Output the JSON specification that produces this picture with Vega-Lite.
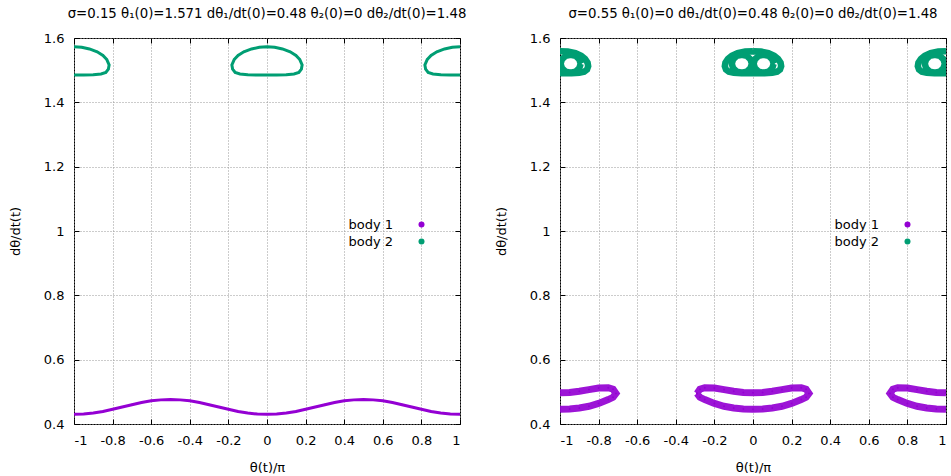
{
  "$schema": "https://vega.github.io/schema/vega-lite/v6.json",
  "background": "white",
  "padding": {"left": 8, "top": 6, "right": 5, "bottom": 5},
  "datasets": {
    "left": [
      {"body":"body 1","seg":"b1","i":0,"x":-1,"y":0.430},
      {"body":"body 1","seg":"b1","i":1,"x":-0.95,"y":0.431},
      {"body":"body 1","seg":"b1","i":2,"x":-0.9,"y":0.434},
      {"body":"body 1","seg":"b1","i":3,"x":-0.85,"y":0.439},
      {"body":"body 1","seg":"b1","i":4,"x":-0.8,"y":0.446},
      {"body":"body 1","seg":"b1","i":5,"x":-0.75,"y":0.453},
      {"body":"body 1","seg":"b1","i":6,"x":-0.7,"y":0.460},
      {"body":"body 1","seg":"b1","i":7,"x":-0.65,"y":0.467},
      {"body":"body 1","seg":"b1","i":8,"x":-0.6,"y":0.472},
      {"body":"body 1","seg":"b1","i":9,"x":-0.55,"y":0.475},
      {"body":"body 1","seg":"b1","i":10,"x":-0.5,"y":0.476},
      {"body":"body 1","seg":"b1","i":11,"x":-0.45,"y":0.475},
      {"body":"body 1","seg":"b1","i":12,"x":-0.4,"y":0.472},
      {"body":"body 1","seg":"b1","i":13,"x":-0.35,"y":0.467},
      {"body":"body 1","seg":"b1","i":14,"x":-0.3,"y":0.460},
      {"body":"body 1","seg":"b1","i":15,"x":-0.25,"y":0.453},
      {"body":"body 1","seg":"b1","i":16,"x":-0.2,"y":0.446},
      {"body":"body 1","seg":"b1","i":17,"x":-0.15,"y":0.439},
      {"body":"body 1","seg":"b1","i":18,"x":-0.1,"y":0.434},
      {"body":"body 1","seg":"b1","i":19,"x":-0.05,"y":0.431},
      {"body":"body 1","seg":"b1","i":20,"x":0,"y":0.430},
      {"body":"body 1","seg":"b1","i":21,"x":0.05,"y":0.431},
      {"body":"body 1","seg":"b1","i":22,"x":0.1,"y":0.434},
      {"body":"body 1","seg":"b1","i":23,"x":0.15,"y":0.439},
      {"body":"body 1","seg":"b1","i":24,"x":0.2,"y":0.446},
      {"body":"body 1","seg":"b1","i":25,"x":0.25,"y":0.453},
      {"body":"body 1","seg":"b1","i":26,"x":0.3,"y":0.460},
      {"body":"body 1","seg":"b1","i":27,"x":0.35,"y":0.467},
      {"body":"body 1","seg":"b1","i":28,"x":0.4,"y":0.472},
      {"body":"body 1","seg":"b1","i":29,"x":0.45,"y":0.475},
      {"body":"body 1","seg":"b1","i":30,"x":0.5,"y":0.476},
      {"body":"body 1","seg":"b1","i":31,"x":0.55,"y":0.475},
      {"body":"body 1","seg":"b1","i":32,"x":0.6,"y":0.472},
      {"body":"body 1","seg":"b1","i":33,"x":0.65,"y":0.467},
      {"body":"body 1","seg":"b1","i":34,"x":0.7,"y":0.460},
      {"body":"body 1","seg":"b1","i":35,"x":0.75,"y":0.453},
      {"body":"body 1","seg":"b1","i":36,"x":0.8,"y":0.446},
      {"body":"body 1","seg":"b1","i":37,"x":0.85,"y":0.439},
      {"body":"body 1","seg":"b1","i":38,"x":0.9,"y":0.434},
      {"body":"body 1","seg":"b1","i":39,"x":0.95,"y":0.431},
      {"body":"body 1","seg":"b1","i":40,"x":1,"y":0.430},

      {"body":"body 2","seg":"c","i":0,"x":0,"y":1.573},
      {"body":"body 2","seg":"c","i":1,"x":0.04,"y":1.571},
      {"body":"body 2","seg":"c","i":2,"x":0.08,"y":1.566},
      {"body":"body 2","seg":"c","i":3,"x":0.12,"y":1.557},
      {"body":"body 2","seg":"c","i":4,"x":0.15,"y":1.546},
      {"body":"body 2","seg":"c","i":5,"x":0.17,"y":1.533},
      {"body":"body 2","seg":"c","i":6,"x":0.182,"y":1.516},
      {"body":"body 2","seg":"c","i":7,"x":0.178,"y":1.503},
      {"body":"body 2","seg":"c","i":8,"x":0.165,"y":1.493},
      {"body":"body 2","seg":"c","i":9,"x":0.14,"y":1.488},
      {"body":"body 2","seg":"c","i":10,"x":0.1,"y":1.486},
      {"body":"body 2","seg":"c","i":11,"x":0.05,"y":1.485},
      {"body":"body 2","seg":"c","i":12,"x":0,"y":1.485},
      {"body":"body 2","seg":"c","i":13,"x":-0.05,"y":1.485},
      {"body":"body 2","seg":"c","i":14,"x":-0.1,"y":1.486},
      {"body":"body 2","seg":"c","i":15,"x":-0.14,"y":1.488},
      {"body":"body 2","seg":"c","i":16,"x":-0.165,"y":1.493},
      {"body":"body 2","seg":"c","i":17,"x":-0.178,"y":1.503},
      {"body":"body 2","seg":"c","i":18,"x":-0.182,"y":1.516},
      {"body":"body 2","seg":"c","i":19,"x":-0.17,"y":1.533},
      {"body":"body 2","seg":"c","i":20,"x":-0.15,"y":1.546},
      {"body":"body 2","seg":"c","i":21,"x":-0.12,"y":1.557},
      {"body":"body 2","seg":"c","i":22,"x":-0.08,"y":1.566},
      {"body":"body 2","seg":"c","i":23,"x":-0.04,"y":1.571},
      {"body":"body 2","seg":"c","i":24,"x":0,"y":1.573},

      {"body":"body 2","seg":"l","i":0,"x":-1,"y":1.573},
      {"body":"body 2","seg":"l","i":1,"x":-0.96,"y":1.571},
      {"body":"body 2","seg":"l","i":2,"x":-0.92,"y":1.566},
      {"body":"body 2","seg":"l","i":3,"x":-0.88,"y":1.557},
      {"body":"body 2","seg":"l","i":4,"x":-0.85,"y":1.546},
      {"body":"body 2","seg":"l","i":5,"x":-0.83,"y":1.533},
      {"body":"body 2","seg":"l","i":6,"x":-0.818,"y":1.516},
      {"body":"body 2","seg":"l","i":7,"x":-0.822,"y":1.503},
      {"body":"body 2","seg":"l","i":8,"x":-0.835,"y":1.493},
      {"body":"body 2","seg":"l","i":9,"x":-0.86,"y":1.488},
      {"body":"body 2","seg":"l","i":10,"x":-0.9,"y":1.486},
      {"body":"body 2","seg":"l","i":11,"x":-0.95,"y":1.485},
      {"body":"body 2","seg":"l","i":12,"x":-1,"y":1.485},

      {"body":"body 2","seg":"r","i":0,"x":1,"y":1.485},
      {"body":"body 2","seg":"r","i":1,"x":0.95,"y":1.485},
      {"body":"body 2","seg":"r","i":2,"x":0.9,"y":1.486},
      {"body":"body 2","seg":"r","i":3,"x":0.86,"y":1.488},
      {"body":"body 2","seg":"r","i":4,"x":0.835,"y":1.493},
      {"body":"body 2","seg":"r","i":5,"x":0.822,"y":1.503},
      {"body":"body 2","seg":"r","i":6,"x":0.818,"y":1.516},
      {"body":"body 2","seg":"r","i":7,"x":0.83,"y":1.533},
      {"body":"body 2","seg":"r","i":8,"x":0.85,"y":1.546},
      {"body":"body 2","seg":"r","i":9,"x":0.88,"y":1.557},
      {"body":"body 2","seg":"r","i":10,"x":0.92,"y":1.566},
      {"body":"body 2","seg":"r","i":11,"x":0.96,"y":1.571},
      {"body":"body 2","seg":"r","i":12,"x":1,"y":1.573}
    ],
    "right": [
      {"body":"body 2","seg":"o0","i":0,"x":0,"y":1.559},
      {"body":"body 2","seg":"o0","i":1,"x":0.04,"y":1.558},
      {"body":"body 2","seg":"o0","i":2,"x":0.08,"y":1.553},
      {"body":"body 2","seg":"o0","i":3,"x":0.11,"y":1.545},
      {"body":"body 2","seg":"o0","i":4,"x":0.13,"y":1.535},
      {"body":"body 2","seg":"o0","i":5,"x":0.143,"y":1.523},
      {"body":"body 2","seg":"o0","i":6,"x":0.146,"y":1.512},
      {"body":"body 2","seg":"o0","i":7,"x":0.14,"y":1.502},
      {"body":"body 2","seg":"o0","i":8,"x":0.125,"y":1.495},
      {"body":"body 2","seg":"o0","i":9,"x":0.1,"y":1.492},
      {"body":"body 2","seg":"o0","i":10,"x":0.06,"y":1.4905},
      {"body":"body 2","seg":"o0","i":11,"x":0.03,"y":1.4905},
      {"body":"body 2","seg":"o0","i":12,"x":0,"y":1.4905},
      {"body":"body 2","seg":"o0","i":13,"x":-0.03,"y":1.4905},
      {"body":"body 2","seg":"o0","i":14,"x":-0.06,"y":1.4905},
      {"body":"body 2","seg":"o0","i":15,"x":-0.1,"y":1.492},
      {"body":"body 2","seg":"o0","i":16,"x":-0.125,"y":1.495},
      {"body":"body 2","seg":"o0","i":17,"x":-0.14,"y":1.502},
      {"body":"body 2","seg":"o0","i":18,"x":-0.146,"y":1.512},
      {"body":"body 2","seg":"o0","i":19,"x":-0.143,"y":1.523},
      {"body":"body 2","seg":"o0","i":20,"x":-0.13,"y":1.535},
      {"body":"body 2","seg":"o0","i":21,"x":-0.11,"y":1.545},
      {"body":"body 2","seg":"o0","i":22,"x":-0.08,"y":1.553},
      {"body":"body 2","seg":"o0","i":23,"x":-0.04,"y":1.558},
      {"body":"body 2","seg":"o0","i":24,"x":0,"y":1.559},

      {"body":"body 2","seg":"o-","i":0,"x":-1,"y":1.559},
      {"body":"body 2","seg":"o-","i":1,"x":-0.96,"y":1.558},
      {"body":"body 2","seg":"o-","i":2,"x":-0.92,"y":1.553},
      {"body":"body 2","seg":"o-","i":3,"x":-0.89,"y":1.545},
      {"body":"body 2","seg":"o-","i":4,"x":-0.87,"y":1.535},
      {"body":"body 2","seg":"o-","i":5,"x":-0.857,"y":1.523},
      {"body":"body 2","seg":"o-","i":6,"x":-0.854,"y":1.512},
      {"body":"body 2","seg":"o-","i":7,"x":-0.86,"y":1.502},
      {"body":"body 2","seg":"o-","i":8,"x":-0.875,"y":1.495},
      {"body":"body 2","seg":"o-","i":9,"x":-0.9,"y":1.492},
      {"body":"body 2","seg":"o-","i":10,"x":-0.94,"y":1.4905},
      {"body":"body 2","seg":"o-","i":11,"x":-0.97,"y":1.4905},
      {"body":"body 2","seg":"o-","i":12,"x":-1,"y":1.4905},

      {"body":"body 2","seg":"o+","i":0,"x":1,"y":1.4905},
      {"body":"body 2","seg":"o+","i":1,"x":0.97,"y":1.4905},
      {"body":"body 2","seg":"o+","i":2,"x":0.94,"y":1.4905},
      {"body":"body 2","seg":"o+","i":3,"x":0.9,"y":1.492},
      {"body":"body 2","seg":"o+","i":4,"x":0.875,"y":1.495},
      {"body":"body 2","seg":"o+","i":5,"x":0.86,"y":1.502},
      {"body":"body 2","seg":"o+","i":6,"x":0.854,"y":1.512},
      {"body":"body 2","seg":"o+","i":7,"x":0.857,"y":1.523},
      {"body":"body 2","seg":"o+","i":8,"x":0.87,"y":1.535},
      {"body":"body 2","seg":"o+","i":9,"x":0.89,"y":1.545},
      {"body":"body 2","seg":"o+","i":10,"x":0.92,"y":1.553},
      {"body":"body 2","seg":"o+","i":11,"x":0.96,"y":1.558},
      {"body":"body 2","seg":"o+","i":12,"x":1,"y":1.559},

      {"body":"body 2","seg":"hl0","i":0,"x":-0.006,"y":1.52},
      {"body":"body 2","seg":"hl0","i":1,"x":-0.013,"y":1.534},
      {"body":"body 2","seg":"hl0","i":2,"x":-0.032,"y":1.5443},
      {"body":"body 2","seg":"hl0","i":3,"x":-0.058,"y":1.548},
      {"body":"body 2","seg":"hl0","i":4,"x":-0.084,"y":1.5443},
      {"body":"body 2","seg":"hl0","i":5,"x":-0.103,"y":1.534},
      {"body":"body 2","seg":"hl0","i":6,"x":-0.11,"y":1.52},
      {"body":"body 2","seg":"hl0","i":7,"x":-0.103,"y":1.506},
      {"body":"body 2","seg":"hl0","i":8,"x":-0.084,"y":1.4957},
      {"body":"body 2","seg":"hl0","i":9,"x":-0.058,"y":1.492},
      {"body":"body 2","seg":"hl0","i":10,"x":-0.032,"y":1.4957},
      {"body":"body 2","seg":"hl0","i":11,"x":-0.013,"y":1.506},
      {"body":"body 2","seg":"hl0","i":12,"x":-0.006,"y":1.52},

      {"body":"body 2","seg":"hr0","i":0,"x":0.107,"y":1.52},
      {"body":"body 2","seg":"hr0","i":1,"x":0.1,"y":1.534},
      {"body":"body 2","seg":"hr0","i":2,"x":0.081,"y":1.5443},
      {"body":"body 2","seg":"hr0","i":3,"x":0.055,"y":1.548},
      {"body":"body 2","seg":"hr0","i":4,"x":0.029,"y":1.5443},
      {"body":"body 2","seg":"hr0","i":5,"x":0.01,"y":1.534},
      {"body":"body 2","seg":"hr0","i":6,"x":0.003,"y":1.52},
      {"body":"body 2","seg":"hr0","i":7,"x":0.01,"y":1.506},
      {"body":"body 2","seg":"hr0","i":8,"x":0.029,"y":1.4957},
      {"body":"body 2","seg":"hr0","i":9,"x":0.055,"y":1.492},
      {"body":"body 2","seg":"hr0","i":10,"x":0.081,"y":1.4957},
      {"body":"body 2","seg":"hr0","i":11,"x":0.1,"y":1.506},
      {"body":"body 2","seg":"hr0","i":12,"x":0.107,"y":1.52},

      {"body":"body 2","seg":"hr-","i":0,"x":-0.893,"y":1.52},
      {"body":"body 2","seg":"hr-","i":1,"x":-0.9,"y":1.534},
      {"body":"body 2","seg":"hr-","i":2,"x":-0.919,"y":1.5443},
      {"body":"body 2","seg":"hr-","i":3,"x":-0.945,"y":1.548},
      {"body":"body 2","seg":"hr-","i":4,"x":-0.971,"y":1.5443},
      {"body":"body 2","seg":"hr-","i":5,"x":-0.99,"y":1.534},
      {"body":"body 2","seg":"hr-","i":6,"x":-0.997,"y":1.52},
      {"body":"body 2","seg":"hr-","i":7,"x":-0.99,"y":1.506},
      {"body":"body 2","seg":"hr-","i":8,"x":-0.971,"y":1.4957},
      {"body":"body 2","seg":"hr-","i":9,"x":-0.945,"y":1.492},
      {"body":"body 2","seg":"hr-","i":10,"x":-0.919,"y":1.4957},
      {"body":"body 2","seg":"hr-","i":11,"x":-0.9,"y":1.506},
      {"body":"body 2","seg":"hr-","i":12,"x":-0.893,"y":1.52},

      {"body":"body 2","seg":"hl+","i":0,"x":0.994,"y":1.52},
      {"body":"body 2","seg":"hl+","i":1,"x":0.987,"y":1.534},
      {"body":"body 2","seg":"hl+","i":2,"x":0.968,"y":1.5443},
      {"body":"body 2","seg":"hl+","i":3,"x":0.942,"y":1.548},
      {"body":"body 2","seg":"hl+","i":4,"x":0.916,"y":1.5443},
      {"body":"body 2","seg":"hl+","i":5,"x":0.897,"y":1.534},
      {"body":"body 2","seg":"hl+","i":6,"x":0.89,"y":1.52},
      {"body":"body 2","seg":"hl+","i":7,"x":0.897,"y":1.506},
      {"body":"body 2","seg":"hl+","i":8,"x":0.916,"y":1.4957},
      {"body":"body 2","seg":"hl+","i":9,"x":0.942,"y":1.492},
      {"body":"body 2","seg":"hl+","i":10,"x":0.968,"y":1.4957},
      {"body":"body 2","seg":"hl+","i":11,"x":0.987,"y":1.506},
      {"body":"body 2","seg":"hl+","i":12,"x":0.994,"y":1.52},

      {"body":"body 1","seg":"c0","i":0,"x":-0.29,"y":0.495},
      {"body":"body 1","seg":"c0","i":1,"x":-0.275,"y":0.508},
      {"body":"body 1","seg":"c0","i":2,"x":-0.25,"y":0.513},
      {"body":"body 1","seg":"c0","i":3,"x":-0.2,"y":0.512},
      {"body":"body 1","seg":"c0","i":4,"x":-0.15,"y":0.507},
      {"body":"body 1","seg":"c0","i":5,"x":-0.1,"y":0.502},
      {"body":"body 1","seg":"c0","i":6,"x":-0.05,"y":0.498},
      {"body":"body 1","seg":"c0","i":7,"x":0,"y":0.497},
      {"body":"body 1","seg":"c0","i":8,"x":0.05,"y":0.498},
      {"body":"body 1","seg":"c0","i":9,"x":0.1,"y":0.502},
      {"body":"body 1","seg":"c0","i":10,"x":0.15,"y":0.507},
      {"body":"body 1","seg":"c0","i":11,"x":0.2,"y":0.512},
      {"body":"body 1","seg":"c0","i":12,"x":0.25,"y":0.513},
      {"body":"body 1","seg":"c0","i":13,"x":0.275,"y":0.508},
      {"body":"body 1","seg":"c0","i":14,"x":0.29,"y":0.495},
      {"body":"body 1","seg":"c0","i":15,"x":0.275,"y":0.483},
      {"body":"body 1","seg":"c0","i":16,"x":0.25,"y":0.476},
      {"body":"body 1","seg":"c0","i":17,"x":0.2,"y":0.464},
      {"body":"body 1","seg":"c0","i":18,"x":0.15,"y":0.455},
      {"body":"body 1","seg":"c0","i":19,"x":0.1,"y":0.45},
      {"body":"body 1","seg":"c0","i":20,"x":0.05,"y":0.447},
      {"body":"body 1","seg":"c0","i":21,"x":0,"y":0.446},
      {"body":"body 1","seg":"c0","i":22,"x":-0.05,"y":0.447},
      {"body":"body 1","seg":"c0","i":23,"x":-0.1,"y":0.45},
      {"body":"body 1","seg":"c0","i":24,"x":-0.15,"y":0.455},
      {"body":"body 1","seg":"c0","i":25,"x":-0.2,"y":0.464},
      {"body":"body 1","seg":"c0","i":26,"x":-0.25,"y":0.476},
      {"body":"body 1","seg":"c0","i":27,"x":-0.275,"y":0.483},
      {"body":"body 1","seg":"c0","i":28,"x":-0.29,"y":0.495},

      {"body":"body 1","seg":"c-","i":0,"x":-1,"y":0.497},
      {"body":"body 1","seg":"c-","i":1,"x":-0.95,"y":0.498},
      {"body":"body 1","seg":"c-","i":2,"x":-0.9,"y":0.502},
      {"body":"body 1","seg":"c-","i":3,"x":-0.85,"y":0.507},
      {"body":"body 1","seg":"c-","i":4,"x":-0.8,"y":0.512},
      {"body":"body 1","seg":"c-","i":5,"x":-0.75,"y":0.513},
      {"body":"body 1","seg":"c-","i":6,"x":-0.725,"y":0.508},
      {"body":"body 1","seg":"c-","i":7,"x":-0.71,"y":0.495},
      {"body":"body 1","seg":"c-","i":8,"x":-0.725,"y":0.483},
      {"body":"body 1","seg":"c-","i":9,"x":-0.75,"y":0.476},
      {"body":"body 1","seg":"c-","i":10,"x":-0.8,"y":0.464},
      {"body":"body 1","seg":"c-","i":11,"x":-0.85,"y":0.455},
      {"body":"body 1","seg":"c-","i":12,"x":-0.9,"y":0.45},
      {"body":"body 1","seg":"c-","i":13,"x":-0.95,"y":0.447},
      {"body":"body 1","seg":"c-","i":14,"x":-1,"y":0.446},

      {"body":"body 1","seg":"c+","i":0,"x":1,"y":0.446},
      {"body":"body 1","seg":"c+","i":1,"x":0.95,"y":0.447},
      {"body":"body 1","seg":"c+","i":2,"x":0.9,"y":0.45},
      {"body":"body 1","seg":"c+","i":3,"x":0.85,"y":0.455},
      {"body":"body 1","seg":"c+","i":4,"x":0.8,"y":0.464},
      {"body":"body 1","seg":"c+","i":5,"x":0.75,"y":0.476},
      {"body":"body 1","seg":"c+","i":6,"x":0.725,"y":0.483},
      {"body":"body 1","seg":"c+","i":7,"x":0.71,"y":0.495},
      {"body":"body 1","seg":"c+","i":8,"x":0.725,"y":0.508},
      {"body":"body 1","seg":"c+","i":9,"x":0.75,"y":0.513},
      {"body":"body 1","seg":"c+","i":10,"x":0.8,"y":0.512},
      {"body":"body 1","seg":"c+","i":11,"x":0.85,"y":0.507},
      {"body":"body 1","seg":"c+","i":12,"x":0.9,"y":0.502},
      {"body":"body 1","seg":"c+","i":13,"x":0.95,"y":0.498},
      {"body":"body 1","seg":"c+","i":14,"x":1,"y":0.497}
    ]
  },
  "hconcat": [
    {
      "width": 386, "height": 386,
      "title": "σ=0.15 θ₁(0)=1.571 dθ₁/dt(0)=0.48 θ₂(0)=0 dθ₂/dt(0)=1.48",
      "data": {"name": "left"},
      "layer": [
        {
          "mark": {"type": "point", "filled": true, "size": 4, "opacity": 1, "clip": true},
          "encoding": {
            "x": {"field": "x", "type": "quantitative", "scale": {"domain": [-1, 1], "nice": false, "zero": false},
                  "axis": {"orient": "bottom", "title": "θ(t)/π", "titlePadding": 14, "values": [-1,-0.8,-0.6,-0.4,-0.2,0,0.2,0.4,0.6,0.8,1], "format": "~g", "labelExpr": "replace(datum.label, '\u2212', '-')", "grid": true}},
            "y": {"field": "y", "type": "quantitative", "scale": {"domain": [0.4, 1.6], "nice": false, "zero": false},
                  "axis": {"orient": "left", "title": "dθ/dt(t)", "titlePadding": 21, "values": [0.4,0.6,0.8,1,1.2,1.4,1.6], "format": "~g", "grid": true}},
            "fill": {"field": "body", "type": "nominal", "scale": {"domain": ["body 1", "body 2"], "range": ["#9400d3", "#009e73"]},
                     "legend": {"orient": "none", "legendX": 341, "legendY": 180, "title": null, "symbolType": "circle", "symbolSize": 36, "symbolStrokeWidth": 0, "labelAlign": "right", "labelOffset": -35, "labelFontSize": 13, "rowPadding": 3, "padding": 0}}
          }
        },
        {
          "mark": {"type": "line", "strokeWidth": 3, "clip": true},
          "encoding": {
            "x": {"field": "x", "type": "quantitative", "axis": {"orient": "top", "title": null, "labels": false, "grid": false, "values": [-1,-0.8,-0.6,-0.4,-0.2,0,0.2,0.4,0.6,0.8,1]}},
            "y": {"field": "y", "type": "quantitative", "axis": {"orient": "right", "title": null, "labels": false, "grid": false, "values": [0.4,0.6,0.8,1,1.2,1.4,1.6]}},
            "stroke": {"field": "body", "type": "nominal", "scale": {"domain": ["body 1", "body 2"], "range": ["#9400d3", "#009e73"]}, "legend": null},
            "detail": {"field": "seg"},
            "order": {"field": "i", "type": "quantitative"}
          }
        }
      ],
      "resolve": {"axis": {"x": "independent", "y": "independent"}}
    },
    {
      "width": 386, "height": 386,
      "title": "σ=0.55 θ₁(0)=0 dθ₁/dt(0)=0.48 θ₂(0)=0 dθ₂/dt(0)=1.48",
      "data": {"name": "right"},
      "layer": [
        {
          "mark": {"type": "point", "filled": true, "size": 4, "opacity": 1, "clip": true},
          "encoding": {
            "x": {"field": "x", "type": "quantitative", "scale": {"domain": [-1, 1], "nice": false, "zero": false},
                  "axis": {"orient": "bottom", "title": "θ(t)/π", "titlePadding": 14, "values": [-1,-0.8,-0.6,-0.4,-0.2,0,0.2,0.4,0.6,0.8,1], "format": "~g", "labelExpr": "replace(datum.label, '\u2212', '-')", "grid": true}},
            "y": {"field": "y", "type": "quantitative", "scale": {"domain": [0.4, 1.6], "nice": false, "zero": false},
                  "axis": {"orient": "left", "title": "dθ/dt(t)", "titlePadding": 21, "values": [0.4,0.6,0.8,1,1.2,1.4,1.6], "format": "~g", "grid": true}},
            "fill": {"field": "body", "type": "nominal", "scale": {"domain": ["body 1", "body 2"], "range": ["#9400d3", "#009e73"]},
                     "legend": {"orient": "none", "legendX": 341, "legendY": 180, "title": null, "symbolType": "circle", "symbolSize": 36, "symbolStrokeWidth": 0, "labelAlign": "right", "labelOffset": -35, "labelFontSize": 13, "rowPadding": 3, "padding": 0}}
          }
        },
        {
          "transform": [{"filter": "datum.body === 'body 2'"}],
          "mark": {"type": "line", "strokeWidth": 6.5, "clip": true},
          "encoding": {
            "x": {"field": "x", "type": "quantitative", "axis": {"orient": "top", "title": null, "labels": false, "grid": false, "values": [-1,-0.8,-0.6,-0.4,-0.2,0,0.2,0.4,0.6,0.8,1]}},
            "y": {"field": "y", "type": "quantitative", "axis": {"orient": "right", "title": null, "labels": false, "grid": false, "values": [0.4,0.6,0.8,1,1.2,1.4,1.6]}},
            "stroke": {"field": "body", "type": "nominal", "scale": {"domain": ["body 1", "body 2"], "range": ["#9400d3", "#009e73"]}, "legend": null},
            "detail": {"field": "seg"},
            "order": {"field": "i", "type": "quantitative"}
          }
        },
        {
          "transform": [{"filter": "datum.body === 'body 1'"}],
          "mark": {"type": "line", "strokeWidth": 7, "clip": true, "opacity": 0.92},
          "encoding": {
            "x": {"field": "x", "type": "quantitative", "axis": null},
            "y": {"field": "y", "type": "quantitative", "axis": null},
            "stroke": {"field": "body", "type": "nominal", "scale": {"domain": ["body 1", "body 2"], "range": ["#9400d3", "#009e73"]}, "legend": null},
            "detail": {"field": "seg"},
            "order": {"field": "i", "type": "quantitative"}
          }
        }
      ],
      "resolve": {"axis": {"x": "independent", "y": "independent"}}
    }
  ],
  "resolve": {"scale": {"fill": "independent", "stroke": "independent"}, "legend": {"fill": "independent"}},
  "config": {
    "font": "DejaVu Sans",
    "view": {"stroke": "#000", "strokeWidth": 1},
    "concat": {"spacing": 27},
    "axis": {"labelFont": "DejaVu Sans", "labelFontSize": 13, "labelColor": "#000", "titleFont": "DejaVu Sans", "titleFontSize": 13, "titleFontWeight": "normal", "titleColor": "#000", "tickColor": "#000", "tickSize": -5, "labelPadding": 15, "domain": false, "gridColor": "#999", "gridDash": [1, 2], "gridWidth": 1, "gridOpacity": 1},
    "title": {"font": "DejaVu Sans", "fontSize": 13.3, "fontWeight": "normal", "color": "#000", "offset": 12},
    "legend": {"labelFont": "DejaVu Sans", "labelColor": "#000"}
  }
}
